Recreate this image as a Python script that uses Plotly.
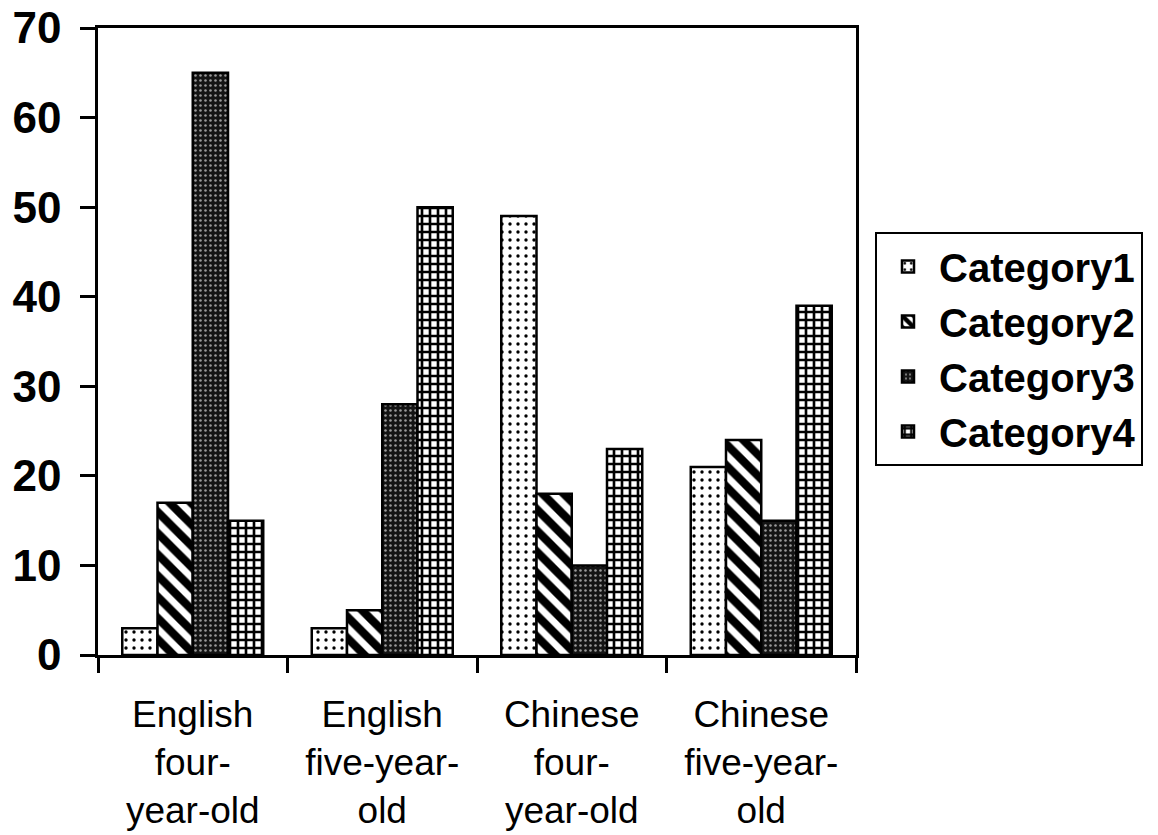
import plotly.graph_objects as go

# Age/language groups along the x axis
groups = [
    "English<br>four-<br>year-old",
    "English<br>five-year-<br>old",
    "Chinese<br>four-<br>year-old",
    "Chinese<br>five-year-<br>old",
]

# Percentages per category
category1 = [3, 3, 49, 21]
category2 = [17, 5, 18, 24]
category3 = [65, 28, 10, 15]
category4 = [15, 50, 23, 39]

y_ticks = [0, 10, 20, 30, 40, 50, 60, 70]

FONT = "Liberation Sans, Arial, Helvetica, sans-serif"

series = [
    ("Category1", category1, dict(shape=".", fgcolor="black", bgcolor="white", size=8, solidity=0.14)),
    ("Category2", category2, dict(shape="\\", fgcolor="black", bgcolor="white", size=15, solidity=0.55)),
    ("Category3", category3, dict(shape=".", fgcolor="#9a9a9a", bgcolor="#141414", size=5, solidity=0.2)),
    ("Category4", category4, dict(shape="+", fgcolor="black", bgcolor="white", size=8, solidity=0.55)),
]

fig = go.Figure()
for name, vals, pat in series:
    fig.add_trace(go.Bar(
        name=name,
        x=groups,
        y=vals,
        marker=dict(
            color="white",
            pattern=dict(fgopacity=1, **pat),
            line=dict(color="black", width=2.5),
        ),
    ))

fig.update_layout(
    width=1158,
    height=835,
    margin=dict(l=98, r=302, t=28, b=180),
    paper_bgcolor="white",
    plot_bgcolor="white",
    barmode="group",
    bargap=0.256,
    bargroupgap=0,
    font=dict(family=FONT, color="black"),
    legend=dict(
        xref="container",
        yref="container",
        x=875 / 1158,
        y=1 - 232 / 835,
        xanchor="left",
        yanchor="top",
        bordercolor="black",
        borderwidth=2,
        bgcolor="white",
        font=dict(family=FONT, size=40, weight="bold", color="black"),
        itemwidth=52,
        tracegroupgap=0,
    ),
    showlegend=True,
)

fig.update_xaxes(
    automargin=False,
    showline=True,
    linecolor="black",
    linewidth=2.5,
    mirror=True,
    ticks="outside",
    tickson="boundaries",
    ticklen=15,
    tickwidth=2.5,
    tickcolor="black",
    showgrid=False,
    tickfont=dict(family=FONT, size=37, color="black"),
    ticklabelstandoff=25,
)

fig.update_yaxes(
    automargin=False,
    range=[0, 70],
    tickvals=y_ticks,
    showline=True,
    linecolor="black",
    linewidth=2.5,
    mirror=True,
    ticks="outside",
    ticklen=15,
    tickwidth=2.5,
    tickcolor="black",
    showgrid=False,
    zeroline=False,
    tickfont=dict(family=FONT, size=44, weight="bold", color="black"),
    ticklabelstandoff=10,
)

fig.write_html("out.html")
